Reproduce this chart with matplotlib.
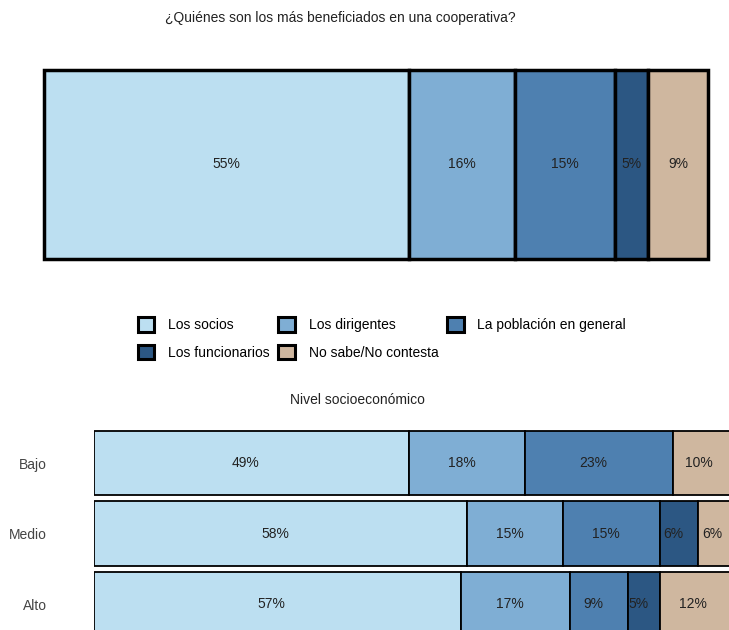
import matplotlib
matplotlib.use("Agg")
import matplotlib.pyplot as plt
from matplotlib.patches import Patch

plt.rcParams['font.family'] = ['Liberation Sans', 'DejaVu Sans']

# Data
categories = ["Los socios", "Los dirigentes", "La población en general",
              "Los funcionarios", "No sabe/No contesta"]
colors = ["#BCDFF1", "#7FAED4", "#4E80B0", "#2C5783", "#CFB79F"]

total_values = [55, 16, 15, 5, 9]

groups = ["Bajo", "Medio", "Alto"]
group_values = {
    "Bajo":  [49, 18, 23, 0, 10],
    "Medio": [58, 15, 15, 6, 6],
    "Alto":  [57, 17, 9, 5, 12],
}

W, H = 729, 630
FS = 10
fig = plt.figure(figsize=(W / 100, H / 100), dpi=100)

# Top title
fig.text(340 / W, 1 - 18 / H, "¿Quiénes son los más beneficiados en una cooperativa?",
         ha="center", va="center", fontsize=FS, color="#222222")

# Top bar
ax1 = fig.add_axes([44 / W, 1 - 259 / H, 664 / W, 189 / H])
left = 0
for v, c in zip(total_values, colors):
    b = ax1.barh(0, v, left=left, height=1, color=c, edgecolor="black", linewidth=2.5)
    for p in b:
        p.set_clip_on(False)
    ax1.text(left + v / 2, 0, f"{v}%", ha="center", va="center", fontsize=FS, color="#222222")
    left += v
ax1.set_xlim(0, 100)
ax1.set_ylim(-0.5, 0.5)
ax1.axis("off")

# Legend (reordered so it reads row by row)
handles = [Patch(facecolor=c, edgecolor="black", linewidth=2.2, label=l)
           for l, c in zip(categories, colors)]
order = [0, 3, 1, 4, 2]
fig.legend(handles=[handles[i] for i in order], ncol=3, loc="center",
           bbox_to_anchor=(382 / W, 1 - 338.5 / H), frameon=False, fontsize=FS,
           handlelength=1.2, handleheight=1.2, handletextpad=1.0,
           columnspacing=0.6, labelspacing=0.9)

# Bottom title
fig.text(357 / W, 1 - 400 / H, "Nivel socioeconómico",
         ha="center", va="center", fontsize=FS, color="#222222")

# Bottom bars
ax2 = fig.add_axes([94 / W, 1 - 639.25 / H, 643 / W, 211.5 / H])
for i, g in enumerate(groups):
    left = 0
    for v, c in zip(group_values[g], colors):
        if v > 0:
            ax2.barh(i, v, left=left, height=0.91, color=c, edgecolor="black", linewidth=1.3)
            ax2.annotate(f"{v}%", (left + v / 2, i), xytext=(-4, 0), textcoords="offset points",
                         ha="center", va="center", fontsize=FS, color="#222222")
        left += v
ax2.set_xlim(0, 100)
ax2.set_ylim(2.5, -0.5)
ax2.set_yticks(range(len(groups)))
ax2.set_yticklabels(groups, fontsize=FS, color="#444444")
ax2.tick_params(axis="y", length=0, pad=34)
ax2.set_xticks([])
for s in ax2.spines.values():
    s.set_visible(False)

fig.savefig("out.png", dpi=100)
